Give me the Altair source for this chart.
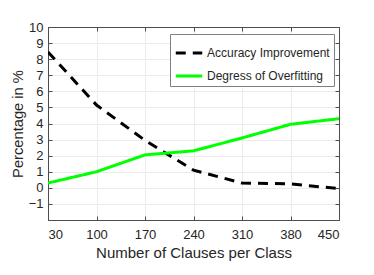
import altair as alt
import pandas as pd

clauses = [30, 100, 170, 240, 310, 380, 450]
accuracy_improvement = [8.45, 5.15, 2.95, 1.1, 0.3, 0.25, -0.05]
overfitting = [0.3, 1.0, 2.05, 2.3, 3.1, 3.95, 4.3]
series_names = ["Accuracy Improvement", "Degress of Overfitting"]
x_ticks = [30, 100, 170, 240, 310, 380, 450]
y_ticks = list(range(-1, 11))

rows = []
for c, a, o in zip(clauses, accuracy_improvement, overfitting):
    rows.append({"clauses": c, "value": a, "series": series_names[0]})
    rows.append({"clauses": c, "value": o, "series": series_names[1]})
df = pd.DataFrame(rows)

FONT = "Liberation Sans"
AX = "#4d4d4d"
TXT = "#262626"

xscale = alt.Scale(domain=[30, 450], nice=False, zero=False)
yscale = alt.Scale(domain=[-2, 10], nice=False, zero=False)

inward = alt.ExprRef(expr="-4")

legend_kw = dict(title=None, orient="none", legendX=122, legendY=7,
                 symbolType="stroke", symbolSize=700, symbolStrokeWidth=3,
                 strokeColor="#808080", fillColor="white",
                 padding=4, rowPadding=2, labelFontSize=12,
                 labelFont=FONT, labelColor=TXT, labelOffset=3)

main = alt.Chart(df).mark_line(strokeWidth=3, clip=True).encode(
    x=alt.X("clauses:Q", scale=xscale,
            axis=alt.Axis(values=x_ticks, title="Number of Clauses per Class",
                          grid=True, gridColor="#ebebeb", domainColor=AX, tickColor=AX,
                          tickSize=inward, labelPadding=12, labelColor=TXT,
                          labelFontSize=13, titleFontSize=15, titleFontWeight="normal",
                          titleColor=TXT, titlePadding=4, labelFont=FONT, titleFont=FONT)),
    y=alt.Y("value:Q", scale=yscale,
            axis=alt.Axis(values=y_ticks, title="Percentage in %",
                          grid=True, gridColor="#ebebeb", domainColor=AX, tickColor=AX,
                          tickSize=inward, labelPadding=9, labelColor=TXT,
                          labelFontSize=13, titleFontSize=14.7, titleFontWeight="normal",
                          titleColor=TXT, titlePadding=3, labelFont=FONT, titleFont=FONT)),
    color=alt.Color("series:N",
                    scale=alt.Scale(domain=series_names, range=["#000000", "#00ff00"]),
                    legend=alt.Legend(**legend_kw)),
    strokeDash=alt.StrokeDash("series:N",
                              scale=alt.Scale(domain=series_names, range=[[10, 7], [1, 0]]),
                              legend=alt.Legend(**legend_kw)),
)

ticks_other = alt.Chart(df).mark_line(opacity=0).encode(
    x=alt.X("clauses:Q", scale=xscale,
            axis=alt.Axis(orient="top", values=x_ticks, labels=False, title=None, grid=False,
                          domainColor=AX, tickColor=AX, tickSize=inward)),
    y=alt.Y("value:Q", scale=yscale,
            axis=alt.Axis(orient="right", values=y_ticks, labels=False, title=None, grid=False,
                          domainColor=AX, tickColor=AX, tickSize=inward)),
)

chart = alt.layer(main, ticks_other).resolve_axis(x="independent", y="independent").properties(
    width=291, height=193,
    autosize=alt.AutoSizeParams(type="none"),
    padding={"left": 40, "top": 19, "right": 20, "bottom": 46},
).configure_view(stroke=AX, strokeWidth=1)

chart.save("out.html", embed_options={"renderer": "svg", "actions": False})
